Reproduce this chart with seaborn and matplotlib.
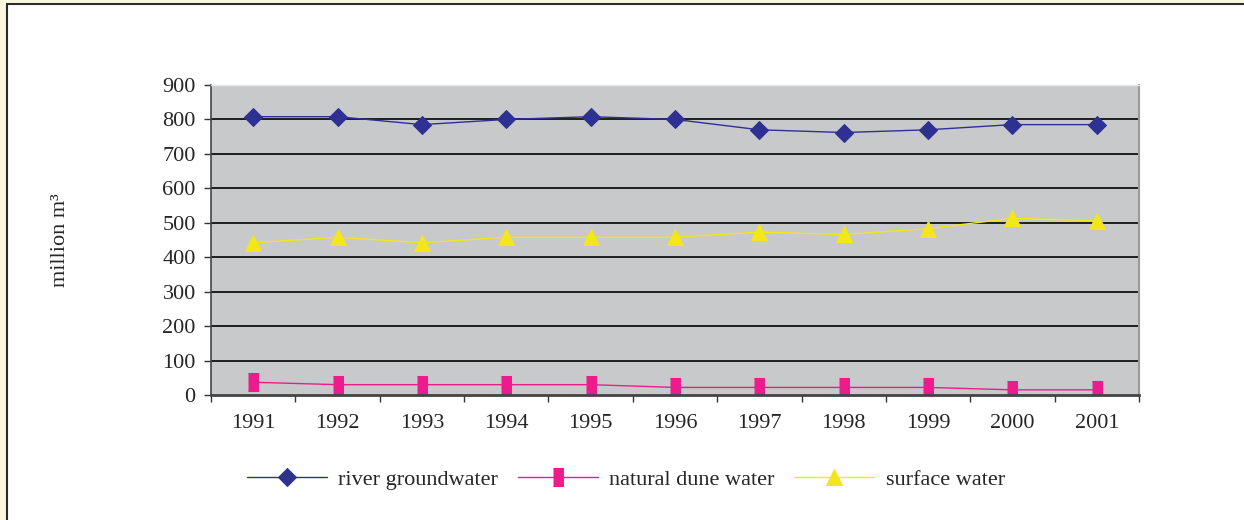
import matplotlib
matplotlib.use('Agg')
import matplotlib.pyplot as plt
from matplotlib.patches import Rectangle
from matplotlib.ticker import MultipleLocator, FixedLocator
import seaborn as sns

# data (million m3)
years = [1991, 1992, 1993, 1994, 1995, 1996, 1997, 1998, 1999, 2000, 2001]
river_groundwater = [808, 808, 785, 800, 808, 800, 770, 762, 770, 785, 785]
natural_dune_water = [37, 30, 30, 30, 30, 22, 22, 22, 22, 15, 15]
surface_water = [442, 458, 442, 458, 458, 458, 473, 466, 483, 513, 506]

sns.set_style('white')
plt.rcParams['font.family'] = ['Liberation Serif', 'DejaVu Serif']

fig = plt.figure(figsize=(12.44, 5.2), dpi=100)
fig.patch.set_facecolor('#fbf8e2')
fig.patches.append(Rectangle((7 / 1244, -0.1), 1.2, 1 - 4 / 520 + 0.1, transform=fig.transFigure,
                             facecolor='white', edgecolor='#2b2b2b', linewidth=1.5, zorder=-10))

ax = fig.add_axes([211 / 1244, 125 / 520, 928 / 1244, 310 / 520])
ax.set_facecolor('#c8c9cb')

rect = [(-0.28, -0.5), (0.28, -0.5), (0.28, 0.5), (-0.28, 0.5)]
sns.lineplot(x=years, y=river_groundwater, ax=ax, color='#2e3192', marker='D', markersize=9.5,
             markeredgecolor='#2e3192', linewidth=1, label='river groundwater')
sns.lineplot(x=years, y=natural_dune_water, ax=ax, color='#ec1c8c', marker=rect, markersize=13.5,
             markeredgecolor='#ec1c8c', linewidth=1, label='natural dune water')
sns.lineplot(x=years, y=surface_water, ax=ax, color='#f3e619', marker='^', markersize=12,
             markeredgecolor='#f3e619', linewidth=1, label='surface water')

ax.set_xlim(1990.5, 2001.5)
ax.set_ylim(0, 900)
ax.yaxis.set_major_locator(MultipleLocator(100))
ax.set_xticks(years)
ax.set_xticklabels([str(y) for y in years])
ax.xaxis.set_minor_locator(FixedLocator([y + 0.5 for y in [1990] + years]))
ax.tick_params(axis='x', which='major', length=0, pad=14, labelsize=16)
ax.tick_params(axis='x', which='minor', length=5, width=1, color='#333333', direction='out', bottom=True)
ax.tick_params(axis='y', length=5, width=1, color='#333333', direction='out', left=True, pad=6, labelsize=16)

for yv in range(100, 900, 100):
    ax.axhline(yv, color='#1e1e1e', linewidth=1.4, zorder=1)

ax.spines['left'].set_color('#444444')
ax.spines['left'].set_linewidth(1.2)
ax.spines['bottom'].set_color('#444444')
ax.spines['bottom'].set_linewidth(2)
ax.spines['right'].set_color('#9a9a9a')
ax.spines['right'].set_linewidth(1.5)
ax.spines['top'].set_color('#e8e8e8')
ax.spines['top'].set_linewidth(1)

ax.set_xlabel('')
ax.set_ylabel('million m³', fontsize=16)
ax.yaxis.set_label_coords(-0.152, 0.5)

ax.legend(loc='center', bbox_to_anchor=(0.447, -0.274), ncol=3, frameon=False, fontsize=16,
          handlelength=3.6, handletextpad=0.5, columnspacing=0.9)

fig.savefig('out.png', dpi=100, facecolor=fig.get_facecolor())
